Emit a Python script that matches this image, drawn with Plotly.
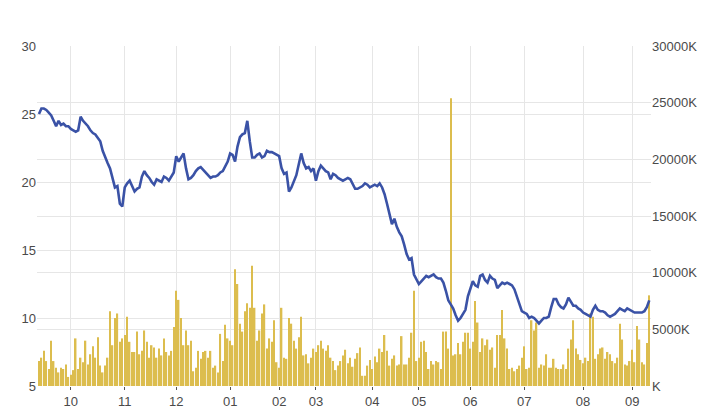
import plotly.graph_objects as go

price = [25.0,25.4,25.4,25.3,25.1,24.9,24.5,24.1,24.5,24.2,24.3,24.1,24.1,23.9,23.8,23.7,23.8,24.8,24.5,24.3,
24.1,23.8,23.6,23.5,23.2,23.0,22.3,21.8,21.4,21.0,20.3,19.6,19.7,18.4,18.2,19.6,19.9,20.1,19.7,19.3,
19.5,19.6,20.4,20.8,20.5,20.3,20.0,19.8,20.2,20.1,20.0,20.4,20.3,20.1,20.4,20.7,21.9,21.5,21.8,22.1,
21.0,20.2,20.3,20.5,20.8,21.0,21.1,20.9,20.7,20.5,20.3,20.4,20.4,20.5,20.7,20.8,21.2,21.5,22.1,22.0,
21.5,22.6,23.3,23.5,23.6,24.5,23.0,21.8,21.8,22.0,22.1,21.8,21.9,22.3,22.2,22.2,22.1,22.0,21.9,21.0,
20.6,20.7,19.3,19.6,20.1,20.5,21.3,22.1,21.4,21.0,21.1,20.8,21.0,20.1,20.8,21.2,21.0,20.8,20.7,20.2,
20.6,20.5,20.3,20.2,20.1,20.2,20.3,20.2,19.8,19.5,19.5,19.6,19.7,19.9,19.8,19.6,19.7,19.8,19.7,19.9,
19.6,19.1,18.4,17.6,16.9,17.3,16.7,16.3,16.0,15.4,14.7,14.3,14.4,13.2,12.8,12.5,12.7,12.9,13.1,13.0,
13.1,13.2,13.0,12.9,12.9,12.6,12.0,11.3,11.0,10.7,10.2,9.8,10.0,10.3,10.6,11.6,12.2,12.7,12.4,12.3,
13.1,13.2,12.8,12.6,13.1,12.9,12.8,12.2,12.4,12.6,12.5,12.6,12.5,12.4,12.1,11.6,11.1,10.5,10.4,10.3,
10.0,10.1,10.0,9.8,9.6,9.8,10.0,10.0,10.1,10.8,11.4,11.4,11.0,10.8,10.7,11.0,11.5,11.2,10.9,10.9,
10.7,10.6,10.4,10.3,10.2,10.1,10.6,10.9,10.6,10.5,10.5,10.4,10.2,10.1,10.2,10.3,10.5,10.7,10.6,10.5,
10.7,10.6,10.5,10.4,10.4,10.4,10.4,10.5,10.8,11.3]

# volume in millions of shares
volume_m = [2.2,2.5,3.1,2.2,1.5,4.0,2.2,1.6,1.2,1.6,
1.5,1.9,0.8,1.0,1.4,4.2,1.5,2.5,2.1,4.0,1.9,2.8,3.5,
2.5,4.3,1.8,1.2,1.8,2.5,6.6,3.6,6.0,6.4,
3.9,4.2,4.5,6.1,3.9,3.0,3.0,4.8,2.8,3.1,
4.9,3.9,2.5,3.6,3.4,2.5,3.3,2.7,4.2,3.0,
2.7,3.1,5.2,8.4,7.6,6.0,3.6,4.9,3.6,4.0,
1.3,1.6,3.1,2.4,3.0,3.1,2.5,3.1,1.6,1.8,
1.2,4.6,2.2,5.4,4.2,4.0,3.6,10.3,9.0,5.5,
4.8,6.6,7.3,6.9,10.6,6.9,4.0,4.9,6.4,7.2,
3.3,4.2,3.9,5.8,2.1,1.6,6.9,2.5,
2.4,6.0,5.5,4.0,3.3,4.3,
6.1,2.7,2.8,2.0,2.5,3.3,3.0,3.6,4.0,3.3,
3.1,3.6,2.5,2.2,1.4,1.8,2.2,2.7,3.2,2.0,
2.5,1.7,2.4,2.9,3.4,
0.9,0.9,1.8,2.3,1.5,2.6,2.1,3.3,3.0,4.5,
3.1,1.8,2.4,2.7,1.8,1.9,4.4,1.9,1.9,2.5,
4.7,8.4,2.2,2.5,3.9,4.0,3.0,1.5,2.2,1.9,
2.2,2.1,1.5,4.8,4.8,3.3,25.4,2.7,2.8,3.8,
2.8,3.9,4.7,4.7,3.3,3.9,7.5,5.6,3.0,4.2,
3.6,4.1,3.2,3.4,1.6,4.5,4.5,6.7,4.2,3.3,
1.5,1.6,1.3,1.5,1.8,2.5,3.5,1.5,1.6,5.8,
4.9,5.6,1.6,1.9,1.8,2.8,1.6,1.6,2.4,1.6,
1.5,1.5,1.9,1.5,3.3,4.1,5.8,3.3,2.8,2.3,
2.0,2.5,2.2,6.4,6.1,2.4,2.8,3.3,3.4,2.4,
3.0,2.8,2.2,2.0,2.5,5.5,4.1,1.9,1.8,2.2,
3.2,2.1,5.3,4.1,2.1,1.9,3.8,8.0]

month_labels = ["10","11","12","01","02","03","04","05","06","07","08","09"]
month_start_day = [13,35,56,78,98,113,136,155,176,198,222,242]

n = min(len(price), len(volume_m))
days = list(range(n))
price = price[:n]
vol_k = [v * 1000 for v in volume_m[:n]]

fig = go.Figure()
fig.add_trace(go.Bar(x=days, y=vol_k, yaxis="y", marker=dict(color="#dcbd4e", line=dict(width=0)),
                     width=0.6, showlegend=False))
fig.add_trace(go.Scatter(x=days, y=price, yaxis="y2", mode="lines",
                         line=dict(color="#3a52a6", width=2.6), showlegend=False))

grid = "#e6e6e6"
tickfont = dict(family="Arial, Liberation Sans", size=13, color="#4a4a4a")
fig.update_layout(
    width=720, height=420, paper_bgcolor="white", plot_bgcolor="white",
    margin=dict(l=29, r=77, t=38, b=42), bargap=0.4,
    xaxis=dict(range=[-0.8, n - 0.3], tickvals=month_start_day, ticktext=month_labels,
               showgrid=True, gridcolor=grid, ticks="outside", ticklen=3, tickcolor="#555",
               tickfont=tickfont, zeroline=False, showline=False),
    yaxis=dict(side="right", range=[0, 30000], tickvals=[0,5000,10000,15000,20000,25000,30000],
               ticktext=["K","5000K","10000K","15000K","20000K","25000K","30000K"],
               showgrid=True, gridcolor=grid, tickfont=tickfont, zeroline=False),
    yaxis2=dict(side="left", overlaying="y", range=[5, 30], tickvals=[5,10,15,20,25,30],
                showgrid=True, gridcolor=grid, tickfont=tickfont, zeroline=False),
)
fig.write_html("out.html")
